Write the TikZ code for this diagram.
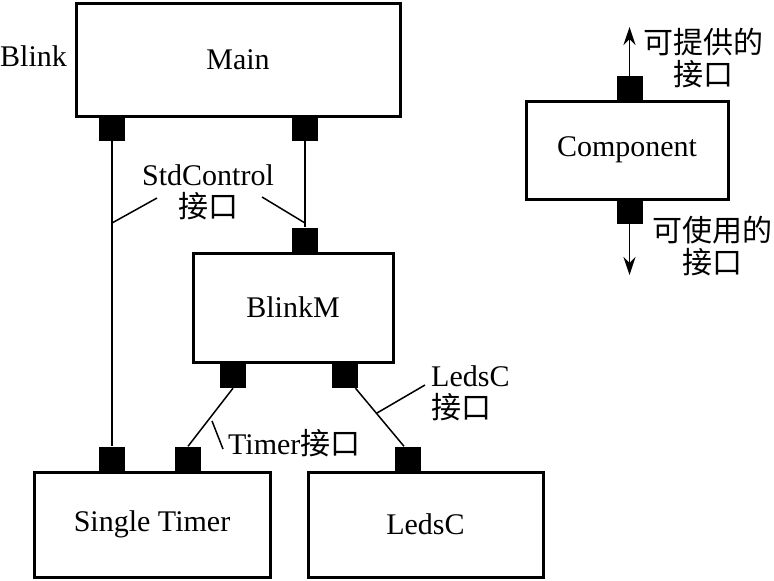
\documentclass[tikz,border=0pt]{standalone}
\usepackage{fontspec}
\setmainfont{Liberation Serif}
\newfontfamily\cjk{Noto Sans CJK SC}
\usetikzlibrary{arrows.meta}
\newcommand\txt{\fontsize{30}{32}\selectfont}
\begin{document}
\begin{tikzpicture}[x=1pt,y=-1pt,
  box/.style={draw,line width=3pt,rectangle,inner sep=0pt,font=\txt},
  port/.style={fill=black,draw=none,rectangle,minimum width=26pt,minimum height=25pt,inner sep=0pt},
  wire/.style={line width=1.5pt},
  lbl/.style={inner sep=0pt,font=\txt,align=center},
  arr/.style={wire,-{Stealth[length=18pt,width=12pt,inset=6pt]}}]
\useasboundingbox (0,0) rectangle (774,581);

% boxes
\node[box,minimum width=324pt,minimum height=113pt] (main) at (238,59.5) {Main};
\node[box,minimum width=200pt,minimum height=109pt] (blinkm) at (293,307.5) {BlinkM};
\node[box,minimum width=236pt,minimum height=105pt] (single) at (152,524.5) {Single Timer};
\node[box,minimum width=235pt,minimum height=105pt] (ledsc) at (425.5,524.5) {LedsC};
\node[box,minimum width=202pt,minimum height=98pt] (comp) at (627,150) {Component};

% ports
\node[port] (pM1) at (112,128.5) {};
\node[port] (pM2) at (305,128.5) {};
\node[port] (pB0) at (305,240) {};
\node[port] (pB1) at (233,375.5) {};
\node[port] (pB2) at (344.5,375.5) {};
\node[port] (pS1) at (112,459) {};
\node[port] (pS2) at (188,459) {};
\node[port] (pL) at (408,459) {};
\node[port] (pC1) at (629.5,88.5) {};
\node[port] (pC2) at (629.5,211.5) {};

% connectors
\draw[wire] (pM1.south) -- (pS1.north);
\draw[wire] (pM2.south) -- (pB0.north);
\draw[wire] (pB1.south) -- (pS2.north);
\draw[wire] ([xshift=11pt]pB2.south) -- ([xshift=-4pt]pL.north);

% component arrows
\coordinate (up) at (629.5,27);
\coordinate (down) at (629.5,275);
\draw[arr] (pC1.north) -- (up);
\draw[arr] (pC2.south) -- (down);

% labels
\node[lbl] (blink) at (33.5,56) {Blink};
\node[lbl] (stdlbl) at (208,192) {StdControl\\{\cjk 接口}};
\node[lbl,anchor=west] (timerlbl) at (228,443) {Timer{\cjk 接口}};
\node[lbl,align=left,anchor=west] (ledslbl) at (431,393) {LedsC\\{\cjk 接口}};
\node[lbl] (provlbl) at (703,58) {\cjk 可提供的\\\cjk 接口};
\node[lbl] (uselbl) at (712,246) {\cjk 可使用的\\\cjk 接口};

% leader lines
\coordinate (s1a) at (112,223);
\coordinate (s1b) at (157,198);
\coordinate (s2a) at (305,223);
\coordinate (s2b) at (262,197);
\coordinate (t1a) at (212,421);
\coordinate (t1b) at (223,449);
\coordinate (l1a) at (377,413);
\coordinate (l1b) at (425,385);
\draw[wire] (s1a) -- (s1b);
\draw[wire] (s2a) -- (s2b);
\draw[wire] (t1a) -- (t1b);
\draw[wire] (l1a) -- (l1b);
\end{tikzpicture}
\end{document}
